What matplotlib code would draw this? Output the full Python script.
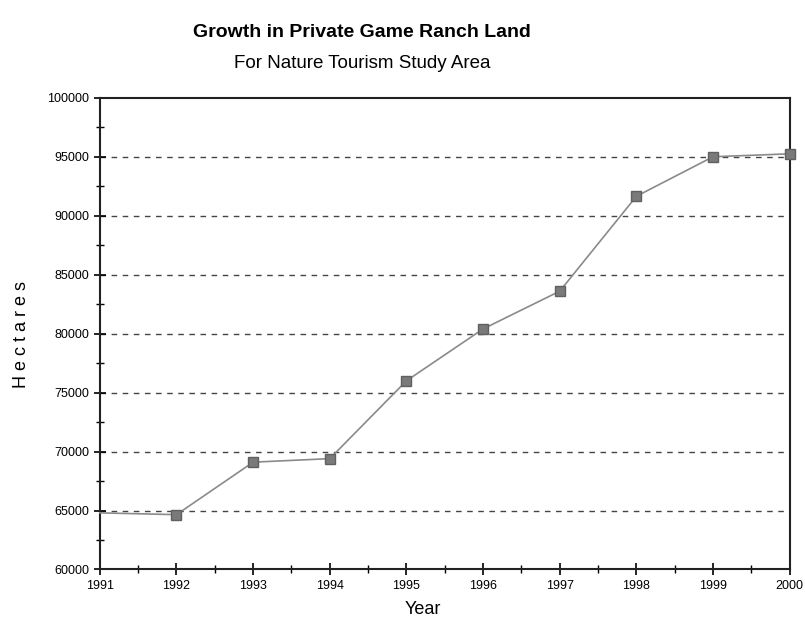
import matplotlib
matplotlib.use("Agg")
import matplotlib.pyplot as plt
from matplotlib.ticker import MultipleLocator

years = [1991, 1992, 1993, 1994, 1995, 1996, 1997, 1998, 1999, 2000]
hectares = [64800, 64650, 69100, 69400, 76000, 80400, 83600, 91650, 95000, 95250]
ytick_vals = [60000, 65000, 70000, 75000, 80000, 85000, 90000, 95000, 100000]
ytick_labels = ["60000", "65000", "70000", "75000", "80000", "85000", "90000", "95000", "100000"]

plt.rcParams['font.family'] = ['Liberation Sans', 'DejaVu Sans']

fig = plt.figure(figsize=(8.05, 6.19), dpi=100)
ax = fig.add_axes([0.124, 0.080, 0.857, 0.762])

ax.plot(years, hectares, color='#8a8a8a', lw=1.2, marker='s', markersize=7,
        markerfacecolor='#7a7a7a', markeredgecolor='#606060', zorder=3,
        markevery=list(range(1, len(years))), clip_on=False)

ax.set_xlim(1991, 2000)
ax.set_ylim(60000, 100000)
ax.set_xticks(years)
ax.set_xticklabels([str(y) for y in years])
ax.set_yticks(ytick_vals)
ax.set_yticklabels(ytick_labels)
ax.xaxis.set_minor_locator(MultipleLocator(0.5))
ax.yaxis.set_minor_locator(MultipleLocator(2500))

for v in ytick_vals[1:-1]:
    ax.axhline(v, color='#444444', lw=1.0, ls=(0, (4, 4)), zorder=1)

ax.tick_params(axis='both', which='major', direction='inout', length=8, width=1.2,
               labelsize=9, colors='black')
ax.tick_params(axis='both', which='minor', direction='inout', length=6, width=1.0)
for s in ax.spines.values():
    s.set_linewidth(1.5)
    s.set_color('#222222')

fig.text(0.45, 0.948, "Growth in Private Game Ranch Land", ha='center', va='center',
         fontsize=14, fontweight='bold')
fig.text(0.45, 0.898, "For Nature Tourism Study Area", ha='center', va='center',
         fontsize=13.5)
fig.text(0.525, 0.015, "Year", ha='center', va='center', fontsize=13)
fig.text(0.027, 0.46, "H e c t a r e s", ha='center', va='center', fontsize=13,
         rotation=90)

fig.savefig("out.png", dpi=100)
